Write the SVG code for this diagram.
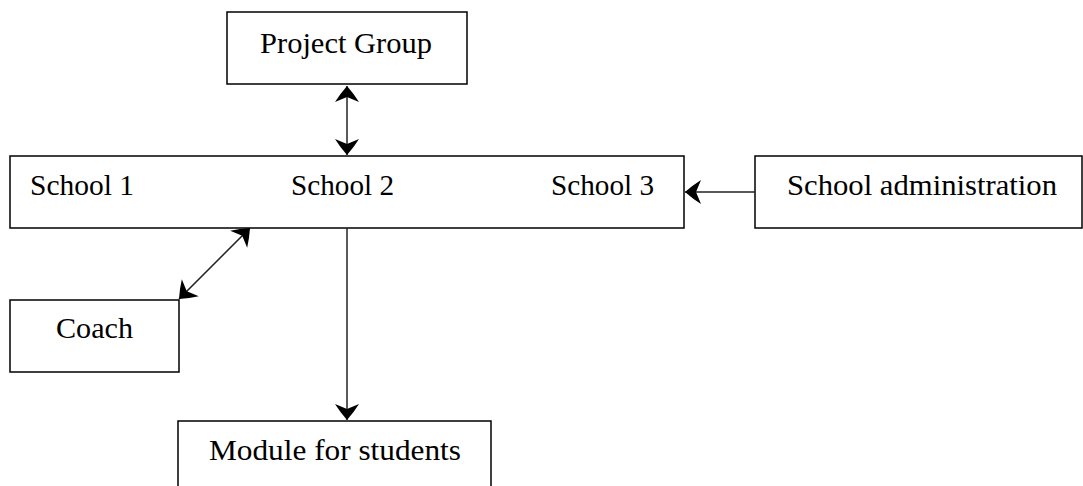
<svg xmlns="http://www.w3.org/2000/svg" width="1083" height="486" viewBox="0 0 1083 486">
<style>
.box{fill:#fff;stroke:#000;stroke-width:1.5}
.lbl{font-family:"Liberation Serif","DejaVu Serif",serif;font-size:29px;fill:#000}
.con{stroke:#222;stroke-width:1.5;fill:none}
</style>
<defs>
<marker id="ah" markerUnits="userSpaceOnUse" viewBox="-17 -13 18 26" refX="0" refY="0" markerWidth="18" markerHeight="26" orient="auto-start-reverse">
<path d="M0,0 Q-8,-7 -16,-12 L-11,0 L-16,12 Q-8,7 0,0 Z" fill="#000"/>
</marker>
</defs>
<rect width="1083" height="486" fill="#fff"/>
<g id="project-group">
<rect class="box" x="227" y="12" width="240" height="72"/>
<text class="lbl" x="260" y="53" textLength="172" lengthAdjust="spacingAndGlyphs">Project Group</text>
</g>
<g id="schools">
<rect class="box" x="10" y="156" width="674" height="72"/>
<text class="lbl" x="30" y="195" textLength="104" lengthAdjust="spacingAndGlyphs">School 1</text>
<text class="lbl" x="291" y="195" textLength="103" lengthAdjust="spacingAndGlyphs">School 2</text>
<text class="lbl" x="551" y="195" textLength="103" lengthAdjust="spacingAndGlyphs">School 3</text>
</g>
<g id="school-administration">
<rect class="box" x="755" y="156" width="327" height="72"/>
<text class="lbl" x="787" y="195" textLength="270" lengthAdjust="spacingAndGlyphs">School administration</text>
</g>
<g id="coach">
<rect class="box" x="10" y="300" width="169" height="72"/>
<text class="lbl" x="56" y="338" textLength="77" lengthAdjust="spacingAndGlyphs">Coach</text>
</g>
<g id="module">
<rect class="box" x="178" y="421" width="313" height="80"/>
<text class="lbl" x="209" y="460" textLength="252" lengthAdjust="spacingAndGlyphs">Module for students</text>
</g>
<g id="connectors">
<line class="con" x1="347" y1="86" x2="347" y2="155" marker-start="url(#ah)" marker-end="url(#ah)"/>
<line class="con" x1="755" y1="192" x2="685" y2="192" marker-end="url(#ah)"/>
<line class="con" x1="179" y1="299" x2="250" y2="228" marker-start="url(#ah)" marker-end="url(#ah)"/>
<line class="con" x1="347" y1="228" x2="347" y2="420" marker-end="url(#ah)"/>
</g>
</svg>
